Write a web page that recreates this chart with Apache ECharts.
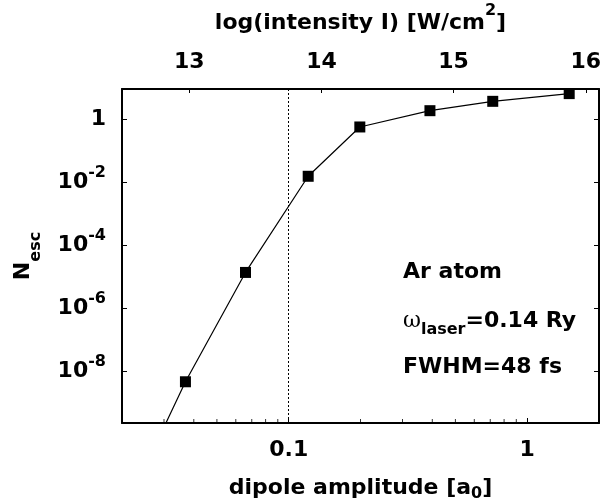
<!DOCTYPE html>
<html><head><meta charset="utf-8">
<script src="https://cdn.jsdelivr.net/npm/echarts@6/dist/echarts.min.js"></script>
<style>html,body{margin:0;padding:0;background:#fff}#c{width:605px;height:501px}</style>
</head><body><div id="c"></div>
<script>
// data
const amplitude = [0.0205, 0.0369, 0.0659, 0.1207, 0.1987, 0.391, 0.717, 1.50];
const nEsc = [4e-13, 4.8e-9, 1.4e-5, 0.0156, 0.57, 1.87, 3.7, 6.5];
const minorTicks = [0.03, 0.04, 0.05, 0.06, 0.07, 0.08, 0.09, 0.2, 0.3, 0.4, 0.5, 0.6, 0.7, 0.8, 0.9];
const xRange = [0.02, 2];
const yRange = [2.37e-10, 9.1];
const intensityRange = [12.491, 16.10];
const markerX = 0.1;
const noteLines = ['Ar atom', '{w|ω}{s|laser}{b|=0.14 Ry}', 'FWHM=48 fs'];

const F = 'DejaVu Sans';
const tok = (size, lh, va, extra) => Object.assign({fontFamily: F, fontWeight: 'bold', fontSize: size, lineHeight: lh, verticalAlign: va, color: '#000', fill: '#000'}, extra || {});

function yLabel(v) {
  const l = Math.log10(v), e = Math.round(l);
  if (Math.abs(l - e) > 1e-6 || e % 2 !== 0) return '';
  return e === 0 ? '{b|1}' : '{b|10}{sup|' + e + '}';
}
function xLabel(v) {
  const l = Math.log10(v), e = Math.round(l);
  if (Math.abs(l - e) > 1e-6) return '';
  return '{b|' + Number(v.toPrecision(6)) + '}';
}
function topLabel(v) {
  return Math.abs(v - Math.round(v)) < 1e-6 ? '{b|' + Math.round(v) + '}' : '';
}

const chart = echarts.init(document.getElementById('c'), null, {renderer: 'canvas'});
const axisLine = {show: true, lineStyle: {color: '#000', width: 2}};
const tick = (len) => ({show: true, inside: true, length: len, lineStyle: {color: '#000', width: 1}});

chart.setOption({
  animation: false,
  backgroundColor: '#fff',
  grid: {left: 122, top: 89, right: 6, bottom: 78, containLabel: false, outerBoundsMode: 'none'},
  xAxis: [{
    type: 'log', logBase: 10, min: xRange[0], max: xRange[1], position: 'bottom',
    axisLine, axisTick: tick(5), splitLine: {show: false}, minorTick: {show: false},
    axisLabel: {formatter: xLabel, margin: 16, rich: {b: tok(22, 22, 'middle')}},
    name: '{b|dipole amplitude [a}{s|0}{b|]}', nameLocation: 'middle', nameGap: 51,
    nameTextStyle: {rich: {b: tok(22, 28, 'middle'), s: tok(16, 16, 'bottom')}}
  }, {
    type: 'value', min: intensityRange[0], max: intensityRange[1], position: 'top',
    axisLine, axisTick: tick(4), splitLine: {show: false},
    axisLabel: {formatter: topLabel, margin: 16, rich: {b: tok(22, 22, 'middle')}},
    name: '{b|log(intensity I) [W/cm}{sup|2}{b|]}', nameLocation: 'middle', nameGap: 46,
    nameTextStyle: {rich: {b: tok(22, 40, 'middle'), sup: tok(16, 16, 'top')}}
  }],
  yAxis: [{
    type: 'log', logBase: 100, min: yRange[0], max: yRange[1], position: 'left',
    axisLine, axisTick: tick(5), splitLine: {show: false}, minorTick: {show: false},
    axisLabel: {formatter: yLabel, margin: 16, rich: {b: tok(22, 35, 'middle'), sup: tok(16, 16, 'top')}},
    name: '{b|N}{s|esc}', nameLocation: 'middle', nameGap: 78,
    nameTextStyle: {rich: {b: tok(22, 42, 'middle'), s: tok(16, 16, 'bottom')}}
  }, {
    type: 'log', logBase: 100, min: yRange[0], max: yRange[1], position: 'right',
    axisLine, axisTick: tick(5), splitLine: {show: false}, axisLabel: {show: false}
  }],
  series: [{
    type: 'line', xAxisIndex: 0, yAxisIndex: 0,
    data: amplitude.map((a, i) => [a, nEsc[i]]),
    symbol: 'rect', symbolSize: 11, showAllSymbol: true,
    lineStyle: {color: '#000', width: 1.2}, itemStyle: {color: '#000'},
    emphasis: {disabled: true}, silent: true,
    markLine: {
      silent: true, symbol: ['none', 'none'], label: {show: false},
      lineStyle: {color: '#000', width: 1, type: [2, 2]},
      data: [{xAxis: markerX}]
    }
  }, {
    type: 'scatter', xAxisIndex: 0, yAxisIndex: 0, clip: false, silent: true,
    data: minorTicks.map(v => [v, yRange[0]]),
    symbol: 'rect', symbolSize: [1, 4], symbolOffset: [0, -2],
    itemStyle: {color: '#000'}, emphasis: {disabled: true}
  }],
  graphic: [
    {type: 'text', x: 403, y: 272.5, silent: true,
     style: {text: noteLines[0], fill: '#000', font: 'bold 22px "DejaVu Sans"', align: 'left', verticalAlign: 'middle'}},
    {type: 'text', x: 403, y: 321, silent: true,
     style: {text: noteLines[1], align: 'left', verticalAlign: 'middle',
       rich: {w: tok(22, 34, 'middle', {fontWeight: 'normal', fontFamily: 'DejaVu Serif'}),
              s: tok(16, 16, 'bottom'), b: tok(22, 34, 'middle')}}},
    {type: 'text', x: 403, y: 367.5, silent: true,
     style: {text: noteLines[2], fill: '#000', font: 'bold 22px "DejaVu Sans"', align: 'left', verticalAlign: 'middle'}}
  ]
});
</script></body></html>
